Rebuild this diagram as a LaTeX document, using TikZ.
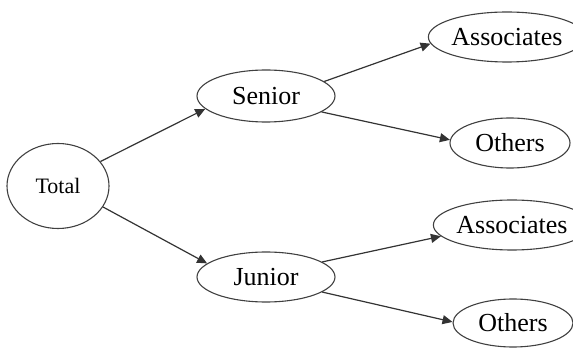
\documentclass[tikz,border=0pt]{standalone}
\usepackage{fontspec}
\setmainfont{Liberation Serif}
\usetikzlibrary{shapes.geometric,arrows.meta}
\tikzset{
  oval/.style={ellipse,draw=black!75,line width=1.1pt,inner sep=0pt,font=\fontsize{26}{30}\selectfont},
  link/.style={draw=black!80,line width=1.2pt,-{Triangle[length=10pt,width=9pt]}}
}
\begin{document}
\begin{tikzpicture}[x=1pt,y=1pt]
\useasboundingbox (0,0) rectangle (573,348);
\node[oval,minimum width=102pt,minimum height=85pt,font=\fontsize{22}{26}\selectfont] (total) at (58,162) {Total};
\node[oval,minimum width=138pt,minimum height=52pt] (senior) at (266,252) {Senior};
\node[oval,minimum width=138pt,minimum height=50pt] (junior) at (266,71) {Junior};
\node[oval,minimum width=119pt,minimum height=50pt] (sa) at (507,311) {Associates};
\node[oval,minimum width=120pt,minimum height=50pt] (so) at (510,205) {Others};
\node[oval,minimum width=119pt,minimum height=50pt] (ja) at (512,123) {Associates};
\node[oval,minimum width=120pt,minimum height=48pt] (jo) at (513,25) {Others};
\draw[link] (total.30) -- (senior.192);
\draw[link] (total.-25) -- (junior.167);
\draw[link] (senior.14) -- (sa.185);
\draw[link] (senior.-16) -- (so.177);
\draw[link] (junior.15) -- (ja.189);
\draw[link] (junior.-15) -- (jo.179);
\end{tikzpicture}
\end{document}
